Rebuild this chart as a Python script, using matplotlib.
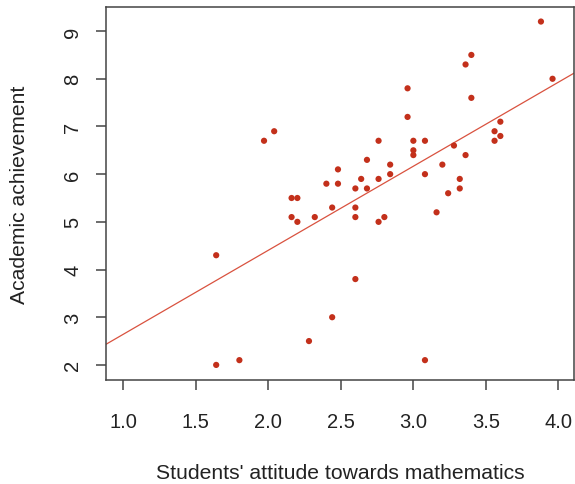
import matplotlib.pyplot as plt
import numpy as np

# students' attitude (x) vs academic achievement (y)
attitude = [1.97, 2.04, 2.48, 2.40, 2.48, 2.16, 2.20,
            3.88, 3.96, 3.36, 3.40, 3.40, 2.96, 2.96, 2.76, 3.00, 3.08,
            3.00, 3.00, 3.28, 3.36, 3.60, 3.56, 3.60, 3.56,
            2.68, 2.84, 2.84, 2.64, 2.76, 2.60, 2.68, 3.08, 3.20,
            3.32, 3.32, 3.24,
            2.16, 2.20, 2.32, 2.44, 1.64, 2.44, 2.28, 1.64, 1.80,
            2.60, 2.60, 2.76, 2.80, 3.16, 2.60, 3.08]
achievement = [6.7, 6.9, 6.1, 5.8, 5.8, 5.5, 5.5,
               9.2, 8.0, 8.3, 8.5, 7.6, 7.8, 7.2, 6.7, 6.7, 6.7,
               6.5, 6.4, 6.6, 6.4, 7.1, 6.9, 6.8, 6.7,
               6.3, 6.2, 6.0, 5.9, 5.9, 5.7, 5.7, 6.0, 6.2,
               5.9, 5.7, 5.6,
               5.1, 5.0, 5.1, 5.3, 4.3, 3.0, 2.5, 2.0, 2.1,
               5.3, 5.1, 5.0, 5.1, 5.2, 3.8, 2.1]

x_ticks = [1.0, 1.5, 2.0, 2.5, 3.0, 3.5, 4.0]
y_ticks = [2, 3, 4, 5, 6, 7, 8, 9]

plt.rcParams['font.family'] = ['Liberation Sans', 'DejaVu Sans']

fig = plt.figure(figsize=(5.75, 4.85), dpi=100)
ax = fig.add_axes([106 / 575, 1 - 380.7 / 485, 468 / 575, 372.7 / 485])

red = '#c3301b'
ax.scatter(attitude, achievement, s=20, color=red, edgecolors='none', zorder=3)

# least squares line, like abline(lm(y ~ x)) in R
slope, intercept = np.polyfit(attitude, achievement, 1)
ax.axline((0, intercept), slope=slope, color='#d9523f', lw=0.9, zorder=2)

ax.set_xlim(0.88, 4.108)
ax.set_ylim(1.69, 9.505)
ax.set_xticks(x_ticks)
ax.set_xticklabels([f'{t:.1f}' for t in x_ticks])
ax.set_yticks(y_ticks)
ax.set_yticklabels([str(t) for t in y_ticks], rotation=90, va='center')

for s in ax.spines.values():
    s.set_color('#444444')
    s.set_linewidth(1.1)
ax.tick_params(direction='out', length=7, width=1.1, color='#444444',
               labelsize=14.5, labelcolor='#222222')
ax.tick_params(axis='x', pad=16.5)
ax.tick_params(axis='y', pad=10)

ax.set_xlabel("Students' attitude towards mathematics", fontsize=15.2,
              color='#222222', labelpad=23)
ax.set_ylabel('Academic achievement', fontsize=15.2, color='#222222',
              labelpad=25)

fig.savefig('out.png', dpi=100)
